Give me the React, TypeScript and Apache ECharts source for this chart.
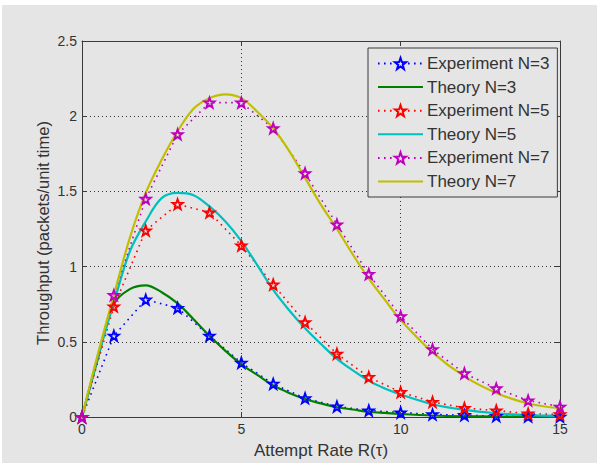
import React, { useEffect, useRef } from "react";
import * as echarts from "echarts";

// Experiment points (integer attempt rates)
const expX = [0, 1, 2, 3, 4, 5, 6, 7, 8, 9, 10, 11, 12, 13, 14, 15];
const expN3 = [0, 0.54, 0.78, 0.725, 0.54, 0.36, 0.22, 0.125, 0.07, 0.043, 0.03, 0.017, 0.012, 0.006, 0.004, 0.002];
const expN5 = [0, 0.735, 1.24, 1.415, 1.36, 1.14, 0.88, 0.63, 0.42, 0.265, 0.165, 0.1, 0.06, 0.043, 0.022, 0.017];
const expN7 = [0, 0.81, 1.45, 1.88, 2.09, 2.09, 1.92, 1.62, 1.28, 0.95, 0.67, 0.45, 0.29, 0.19, 0.11, 0.068];

// Theory curves
const thX = [0, 0.5, 1, 1.5, 2, 2.5, 3, 3.5, 4, 4.5, 5, 5.5, 6, 6.5, 7, 7.5, 8, 8.5, 9, 9.5, 10, 11, 12, 13, 14, 15];
const thN3 = [0, 0.39, 0.75, 0.85, 0.875, 0.83, 0.755, 0.65, 0.54, 0.44, 0.35, 0.28, 0.21, 0.16, 0.12, 0.09, 0.065, 0.05, 0.035, 0.027, 0.02, 0.01, 0.005, 0.003, 0.002, 0.001];
const thN5 = [0, 0.4, 0.76, 1.1, 1.3, 1.455, 1.49, 1.475, 1.4, 1.3, 1.17, 1.01, 0.845, 0.71, 0.59, 0.485, 0.387, 0.31, 0.24, 0.19, 0.15, 0.085, 0.047, 0.025, 0.013, 0.008];
const thN7 = [0, 0.42, 0.81, 1.19, 1.49, 1.71, 1.9, 2.05, 2.12, 2.145, 2.12, 2.03, 1.92, 1.77, 1.59, 1.41, 1.25, 1.08, 0.92, 0.78, 0.645, 0.43, 0.27, 0.16, 0.09, 0.058];

const seriesNames = ["Experiment N=3", "Theory N=3", "Experiment N=5", "Theory N=5", "Experiment N=7", "Theory N=7"];
const seriesColors = ["#0000ff", "#008000", "#ff0000", "#00bfbf", "#bf00bf", "#bfbf00"];

const xTicks = { min: 0, max: 15, interval: 5 };
const yTicks = { min: 0, max: 2.5, interval: 0.5 };

const STAR =
  "path://M0,-10 L2.35,-3.24 L9.51,-3.09 L3.8,1.24 L5.88,8.09 L0,4 L-5.88,8.09 L-3.8,1.24 L-9.51,-3.09 L-2.35,-3.24 Z";

const FONT = "'Liberation Sans', Arial, sans-serif";
const AXIS = "#3a3a3a";
const BG = "#e5e5e5";

function pairs(xs: number[], ys: number[]) {
  return xs.map((x, i) => [x, ys[i]]);
}

export default function App() {
  const ref = useRef<HTMLDivElement>(null);
  useEffect(() => {
    if (!ref.current) return;
    const chart = echarts.init(ref.current, undefined, { renderer: "svg" });
    const expSeries = (name: string, color: string, ys: number[]) => ({
      name,
      type: "line",
      xAxisIndex: 0,
      yAxisIndex: 0,
      data: pairs(expX, ys),
      symbol: STAR,
      symbolSize: 10,
      showAllSymbol: true,
      color,
      lineStyle: { color, width: 1.6, type: [1.6, 4.4] },
      itemStyle: { color: "rgba(0,0,0,0)", borderColor: color, borderWidth: 1.9 },
      clip: false,
    });
    const thSeries = (name: string, color: string, ys: number[]) => ({
      name,
      type: "line",
      xAxisIndex: 0,
      yAxisIndex: 0,
      data: pairs(thX, ys),
      symbol: "none",
      smooth: 0.35,
      color,
      lineStyle: { color, width: 2.2, type: "solid" },
    });
    const axisCommon = {
      type: "value",
      axisLine: { show: true, onZero: false, lineStyle: { color: AXIS, width: 1 } },
      axisTick: { show: true, inside: true, length: 5, lineStyle: { color: AXIS } },
    };
    const legendData = seriesNames.map((name, i) =>
      i % 2 === 1 ? { name, itemStyle: { opacity: 0 } } : { name }
    );
    chart.setOption({
      animation: false,
      backgroundColor: BG,
      textStyle: { fontFamily: FONT },
      grid: { left: 80, top: 36, right: 37, bottom: 46, containLabel: false },
      legend: {
        orient: "vertical",
        left: 366,
        top: 43,
        data: legendData,
        selectedMode: false,
        itemWidth: 45,
        itemHeight: 14,
        itemGap: 6.6,
        padding: [7, 8, 7, 9],
        backgroundColor: BG,
        borderColor: AXIS,
        borderWidth: 1,
        borderRadius: 0,
        textStyle: { fontFamily: FONT, fontSize: 17, color: "#333", padding: [0, 0, 0, -1] },
      },
      xAxis: [
        {
          ...axisCommon,
          position: "bottom",
          ...xTicks,
          axisLabel: { show: true, fontFamily: FONT, fontSize: 14, color: "#333", margin: 5 },
          splitLine: { show: true, lineStyle: { color: "#333", type: [1, 3], width: 1 } },
        },
        {
          ...axisCommon,
          position: "top",
          ...xTicks,
          axisLabel: { show: false },
          splitLine: { show: false },
        },
      ],
      yAxis: [
        {
          ...axisCommon,
          position: "left",
          ...yTicks,
          axisLabel: { show: true, fontFamily: FONT, fontSize: 14, color: "#333", margin: 5 },
          splitLine: { show: true, lineStyle: { color: "#333", type: [1, 3], width: 1 } },
        },
        {
          ...axisCommon,
          position: "right",
          ...yTicks,
          axisLabel: { show: false },
          splitLine: { show: false },
        },
      ],
      graphic: [
        {
          type: "text",
          x: 319,
          y: 445,
          style: {
            text: "Attempt Rate R(\u03c4)",
            fontFamily: FONT,
            fontSize: 17,
            fill: "#333",
            align: "center",
            verticalAlign: "middle",
          },
        },
        {
          type: "text",
          x: 40.5,
          y: 228,
          rotation: Math.PI / 2,
          style: {
            text: "Throughput (packets/unit time)",
            fontFamily: FONT,
            fontSize: 16.5,
            fill: "#333",
            align: "center",
            verticalAlign: "middle",
          },
        },
      ],
      series: [
        expSeries(seriesNames[0], seriesColors[0], expN3),
        thSeries(seriesNames[1], seriesColors[1], thN3),
        expSeries(seriesNames[2], seriesColors[2], expN5),
        thSeries(seriesNames[3], seriesColors[3], thN5),
        expSeries(seriesNames[4], seriesColors[4], expN7),
        thSeries(seriesNames[5], seriesColors[5], thN7),
      ],
    });
    return () => chart.dispose();
  }, []);
  return (
    <div style={{ position: "fixed", left: 0, top: 0, width: 597, height: 463, background: "#ffffff" }}>
      <div ref={ref} style={{ position: "absolute", left: 2, top: 5, width: 595, height: 458 }} />
    </div>
  );
}
